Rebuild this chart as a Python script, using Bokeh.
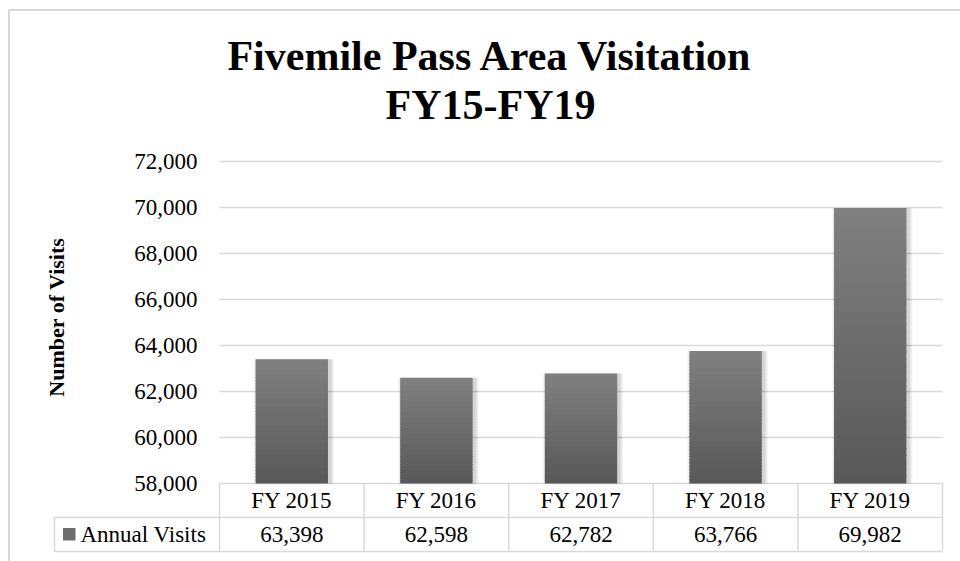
import math
from bokeh.plotting import figure
from bokeh.models import Range1d, Label, BoxAnnotation
from bokeh.core.properties import value
from bokeh.embed import file_html
from bokeh.resources import INLINE

# ---------------- data ----------------
categories = ["FY 2015", "FY 2016", "FY 2017", "FY 2018", "FY 2019"]
annual_visits = [63398, 62598, 62782, 63766, 69982]
y_ticks = [58000, 60000, 62000, 64000, 66000, 68000, 70000, 72000]
series_name = "Annual Visits"
title_lines = ["Fivemile Pass Area Visitation", "FY15-FY19"]
y_title = "Number of Visits"

# ---------------- style / layout (pixels) ----------------
W, H = 960, 561
FONT = "Liberation Serif"
GRID = "#d9d9d9"
BORDER = "#808080"
TXT = "#000000"
FS = "23px"

plot_left, plot_right = 219, 942
plot_top, plot_bottom = 161, 483
row_h = 34
legend_left = 54
bar_width = 0.5
n = len(categories)
y_min, y_max = y_ticks[0], y_ticks[-1]
ppu_y = (plot_bottom - plot_top) / (y_max - y_min)
ppu_x = (plot_right - plot_left) / n
table_bottom = plot_bottom + 2 * row_h


def py_to_y(py):
    return y_max - (py - plot_top) / ppu_y


def px_to_x(px):
    return -0.5 + (px - plot_left) / ppu_x


x_range = Range1d(px_to_x(0), px_to_x(W))
y_range = Range1d(py_to_y(H), py_to_y(0))

p = figure(width=W, height=H, x_range=x_range, y_range=y_range,
           x_axis_location=None, y_axis_location=None,
           output_backend="svg", toolbar_location=None,
           min_border=0, min_border_left=0, min_border_right=0,
           min_border_top=0, min_border_bottom=0)
p.outline_line_color = None
p.background_fill_color = "white"
p.border_fill_color = "white"
p.xgrid.visible = False
p.ygrid.visible = False

x_lo, x_hi = -0.5, n - 0.5

# horizontal gridlines of the value axis
p.segment(x0=[x_lo] * len(y_ticks), x1=[x_hi] * len(y_ticks), y0=y_ticks, y1=y_ticks,
          line_color=GRID, line_width=1.5)
# value axis tick labels
p.text(x=[px_to_x(197)] * len(y_ticks), y=y_ticks, text=[f"{t:,}" for t in y_ticks],
       text_align="right", text_baseline="middle", text_font=value(FONT),
       text_font_size=FS, text_color=TXT)

xpos = list(range(n))

# soft shadow to the right of each bar
for d in (1, 2, 3, 4):
    p.vbar(x=[i + 2 / ppu_x for i in xpos], bottom=y_min, top=annual_visits,
           width=bar_width + 2 * d / ppu_x, fill_color="black", fill_alpha=0.045,
           line_color=None)

# bars with vertical gradient (lighter top, darker bottom)
N = 40
top_c, bot_c = 0x80, 0x58
overlap = 1.0 / ppu_y
xs, bots, tops, cols = [], [], [], []
for k in range(N):
    t = (k + 0.5) / N
    g = int(round(bot_c + (top_c - bot_c) * t))
    for i, v in enumerate(annual_visits):
        b = y_min + (v - y_min) * k / N
        tp = y_min + (v - y_min) * (k + 1) / N
        if k < N - 1:
            tp += overlap
        xs.append(i)
        bots.append(b)
        tops.append(tp)
        cols.append("#%02x%02x%02x" % (g, g, g))
p.vbar(x=xs, bottom=bots, top=tops, width=bar_width, fill_color=cols, line_color=None)

# data table below the plot area
row1_c = plot_bottom + row_h / 2 - 0.5
row2_c = plot_bottom + 1.5 * row_h - 0.5
p.text(x=xpos, y=[py_to_y(row1_c)] * n, text=categories, text_align="center",
       text_baseline="middle", text_font=value(FONT), text_font_size=FS,
       text_color=TXT)
p.text(x=xpos, y=[py_to_y(row2_c)] * n, text=[f"{v:,}" for v in annual_visits],
       text_align="center", text_baseline="middle", text_font=value(FONT),
       text_font_size=FS, text_color=TXT)
bounds = [k - 0.5 for k in range(n + 1)]
p.segment(x0=bounds, x1=bounds, y0=[py_to_y(plot_bottom)] * (n + 1),
          y1=[py_to_y(table_bottom)] * (n + 1), line_color=GRID, line_width=1.5)
xl = px_to_x(legend_left)
p.segment(x0=[xl, xl, xl], x1=[x_hi, x_hi, xl],
          y0=[py_to_y(plot_bottom + row_h), py_to_y(table_bottom), py_to_y(plot_bottom + row_h)],
          y1=[py_to_y(plot_bottom + row_h), py_to_y(table_bottom), py_to_y(table_bottom)],
          line_color=GRID, line_width=1.5)

# legend key of the table
p.quad(left=[px_to_x(62.5)], right=[px_to_x(75)], top=[py_to_y(527.5)],
       bottom=[py_to_y(540)], fill_color="#6e6e6e", line_color=None)
p.text(x=[px_to_x(80)], y=[py_to_y(row2_c)], text=[series_name], text_align="left",
       text_baseline="middle", text_font=value(FONT), text_font_size=FS, text_color=TXT)

# titles
p.add_layout(Label(x=px_to_x(490), y=py_to_y(55), text=title_lines[0],
                   text_font=FONT, text_font_size="42px", text_font_style="bold",
                   text_color=TXT, text_align="center", text_baseline="middle"))
p.add_layout(Label(x=px_to_x(490), y=py_to_y(104), text=title_lines[1],
                   text_font=FONT, text_font_size="42px", text_font_style="bold",
                   text_color=TXT, text_align="center", text_baseline="middle"))
p.add_layout(Label(x=px_to_x(56), y=py_to_y(316.5), text=y_title,
                   angle=math.pi / 2, text_font=FONT, text_font_size="22px",
                   text_font_style="bold", text_color=TXT, text_align="center",
                   text_baseline="middle"))

# chart border
p.add_layout(BoxAnnotation(left=px_to_x(8.5), right=px_to_x(W + 20), top=py_to_y(9.5),
                           bottom=py_to_y(H + 20), fill_alpha=0,
                           line_color=BORDER, line_width=2))

open("out.html", "w").write(file_html(p, INLINE))
